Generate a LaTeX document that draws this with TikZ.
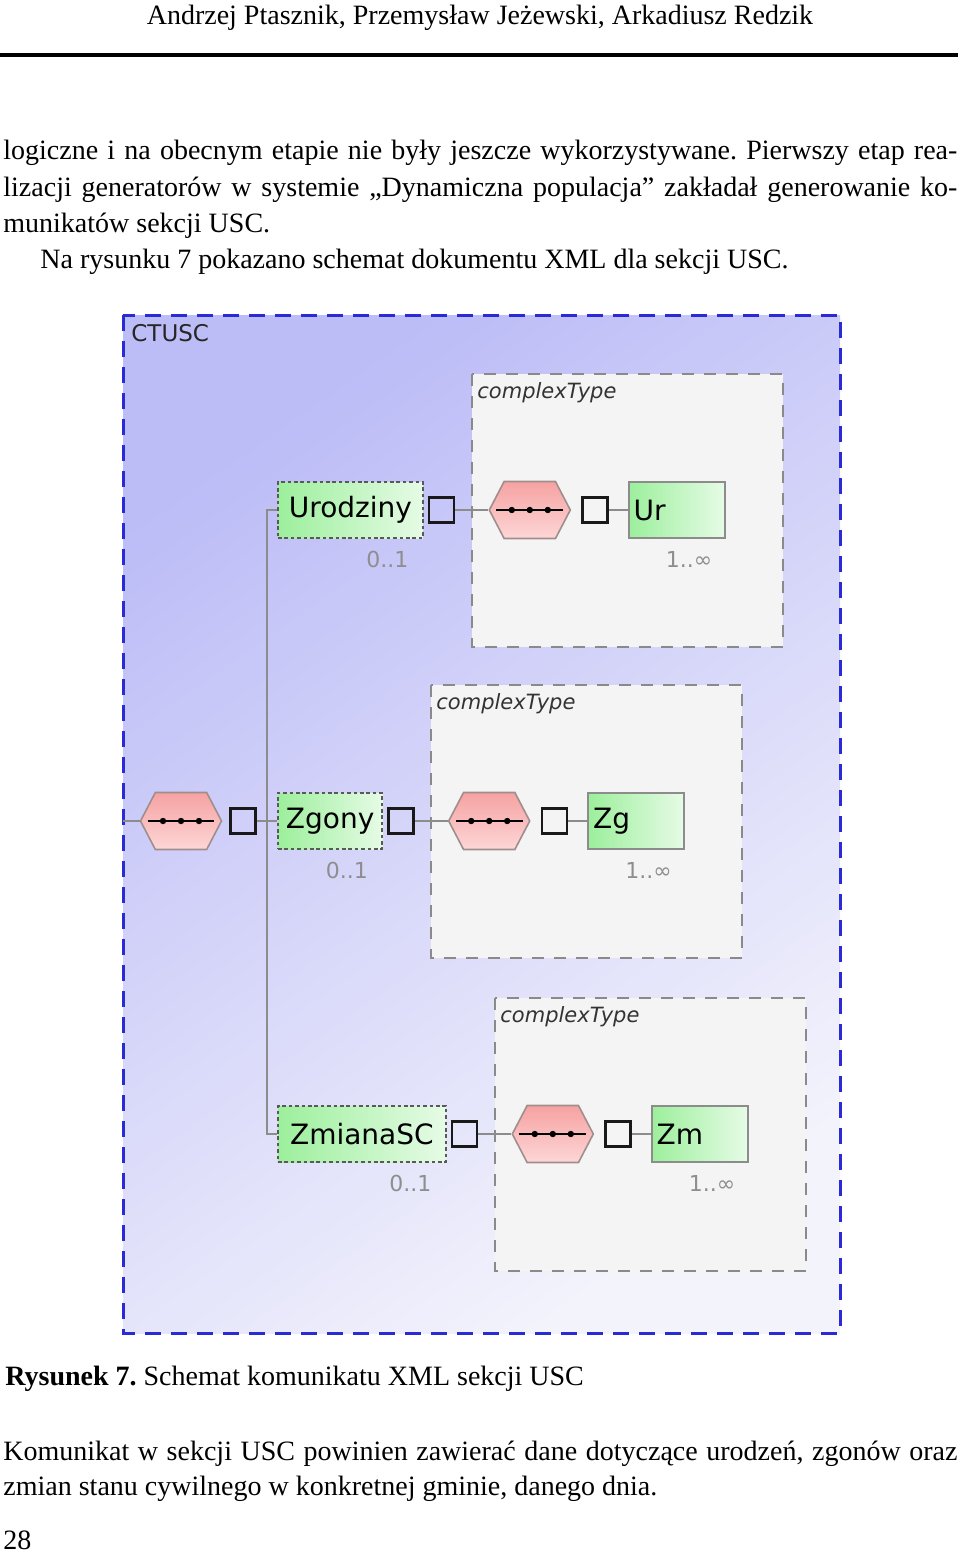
\documentclass[tikz,border=0pt]{standalone}
\usepackage{fontspec}
\setmainfont{Liberation Serif}
\newfontfamily\diafont{DejaVu Sans}
\usetikzlibrary{positioning,shapes.symbols}
\frenchspacing
\definecolor{bgtop}{HTML}{BCBCF7}
\definecolor{bgbot}{HTML}{F3F3FC}
\definecolor{ctblue}{HTML}{2B2BD6}
\definecolor{ctfill}{HTML}{F4F4F4}
\definecolor{ctline}{HTML}{8A8A8A}
\definecolor{elgreen}{HTML}{9CEF9C}
\definecolor{elpale}{HTML}{E6FBE6}
\definecolor{hextop}{HTML}{F6A2A2}
\definecolor{hexbot}{HTML}{FDD6D6}
\definecolor{hexline}{HTML}{A08E8E}
\definecolor{connline}{HTML}{8C8C8C}
\definecolor{multgray}{HTML}{8E8E8E}
\newcommand\seqmark[1]{%
  \draw[line width=1pt] ([xshift=4pt]#1.west) -- ([xshift=-4pt]#1.east);
  \foreach \d in {-9pt,0pt,9pt} \fill ([xshift=\d]#1.center) circle (1.6pt);}

\begin{document}
\begin{tikzpicture}[x=0.5pt,y=-0.5pt,
  txt/.style={anchor=base west,inner sep=0pt,font=\fontsize{14}{18}\selectfont},
  lbl/.style={anchor=north west,inner sep=0pt,text=black!85,font=\diafont\fontsize{11.5}{12}\selectfont},
  ctlbl/.style={anchor=north west,inner sep=0pt,text=black!80,font=\diafont\itshape\fontsize{10.5}{12}\selectfont},
  ctbox/.style={draw=ctline,fill=ctfill,line width=1.4pt,dash pattern=on 6pt off 5pt},
  optel/.style={anchor=west,draw=black!65,line width=0.9pt,dash pattern=on 1.8pt off 1.4pt,
    left color=elgreen,right color=elpale,minimum height=28pt,inner xsep=4pt,
    font=\diafont\fontsize{14}{16}\selectfont},
  reqel/.style={draw=black!45,line width=0.9pt,left color=elgreen,right color=elpale,
    minimum height=28pt,text width=43pt,align=left,inner xsep=2.5pt,
    font=\diafont\fontsize{14}{16}\selectfont},
  seqhex/.style={signal,signal to=east and west,signal pointer angle=125,draw=hexline,
    line width=0.8pt,top color=hextop,bottom color=hexbot,minimum width=40.5pt,
    minimum height=28.5pt,inner sep=0pt},
  sqbox/.style={draw=black!90,line width=1.3pt,minimum size=12.5pt,inner sep=0pt},
  mult/.style={inner sep=0pt,text=multgray,font=\diafont\fontsize{11}{12}\selectfont},
  conn/.style={draw=connline,line width=1pt}]
\useasboundingbox (0,0) rectangle (960,1552);

% page text
\node[txt,anchor=base] (head) at (480,25) {Andrzej Ptasznik, Przemysław Jeżewski, Arkadiusz Redzik};
\draw[line width=1.6pt] (0,55) -- (958,55);
\node[txt] (p1) at (3,160) {\hbox to 477pt{logiczne i na obecnym etapie nie były jeszcze wykorzystywane. Pierwszy etap rea-}};
\node[txt] (p2) at (3,196) {\hbox to 477pt{lizacji generatorów w systemie „Dynamiczna populacja” zakładał generowanie ko-}};
\node[txt] (p3) at (3,232) {munikatów sekcji USC.};
\node[txt] (p4) at (40,268) {Na rysunku 7 pokazano schemat dokumentu XML dla sekcji USC.};

% schema CTUSC
\shade[top color=bgtop,bottom color=bgbot,shading angle=35] (123,315) rectangle (840,1333);
\draw[ctblue,line width=1.5pt,dash pattern=on 8pt off 5pt] (123,315) rectangle (840,1333);
\node[lbl] (ctusc) at (131,324) {CTUSC};

\node[seqhex] (h0) at (181,821) {};
\seqmark{h0}
\node[sqbox] (a0) at (243,821) {};
\coordinate (lin) at (123,821);
\draw[conn] (lin) -- (h0);

\foreach \i/\nm/\y/\w/\sub in {1/Urodziny/510/145/Ur,2/Zgony/821/104/Zg,3/ZmianaSC/1134/168/Zm} {
  \pgfmathsetmacro\cl{\w+327}
  \draw[ctbox] (\cl,\y-136) rectangle (\cl+311,\y+137);
  \node[ctlbl] (ct\i) at (\cl+5,\y-128) {complexType};
  \node[optel,minimum width=\w*0.5pt] (e\i) at (277,\y) {\nm};
  \node[sqbox,right=2pt of e\i] (a\i) {};
  \node[seqhex,right=16.5pt of a\i] (h\i) {};
  \seqmark{h\i}
  \node[sqbox,right=5pt of h\i] (b\i) {};
  \node[reqel,right=9.5pt of b\i] (r\i) {\sub};
  \node[mult,anchor=north east] (m\i) at ([xshift=-7.5pt,yshift=-6pt]e\i.south east) {0..1};
  \node[mult,anchor=north east] (n\i) at ([xshift=-6.5pt,yshift=-6pt]r\i.south east) {1..∞};
  \draw[conn] (a\i) -- (h\i);
  \draw[conn] (b\i) -- (r\i);
}
\draw[conn] (a0) -- (e2);
\draw[conn] (e1.west) -- ++(-10,0) |- (e3.west);

% caption and text below
\node[txt] (cap) at (5,1385) {\textbf{Rysunek 7.} Schemat komunikatu XML sekcji USC};
\node[txt] (q1) at (3,1460) {\hbox to 477pt{Komunikat w sekcji USC powinien zawierać dane dotyczące urodzeń, zgonów oraz}};
\node[txt] (q2) at (3,1495) {zmian stanu cywilnego w konkretnej gminie, danego dnia.};
\node[txt] (pnum) at (3,1549) {28};
\end{tikzpicture}
\end{document}
